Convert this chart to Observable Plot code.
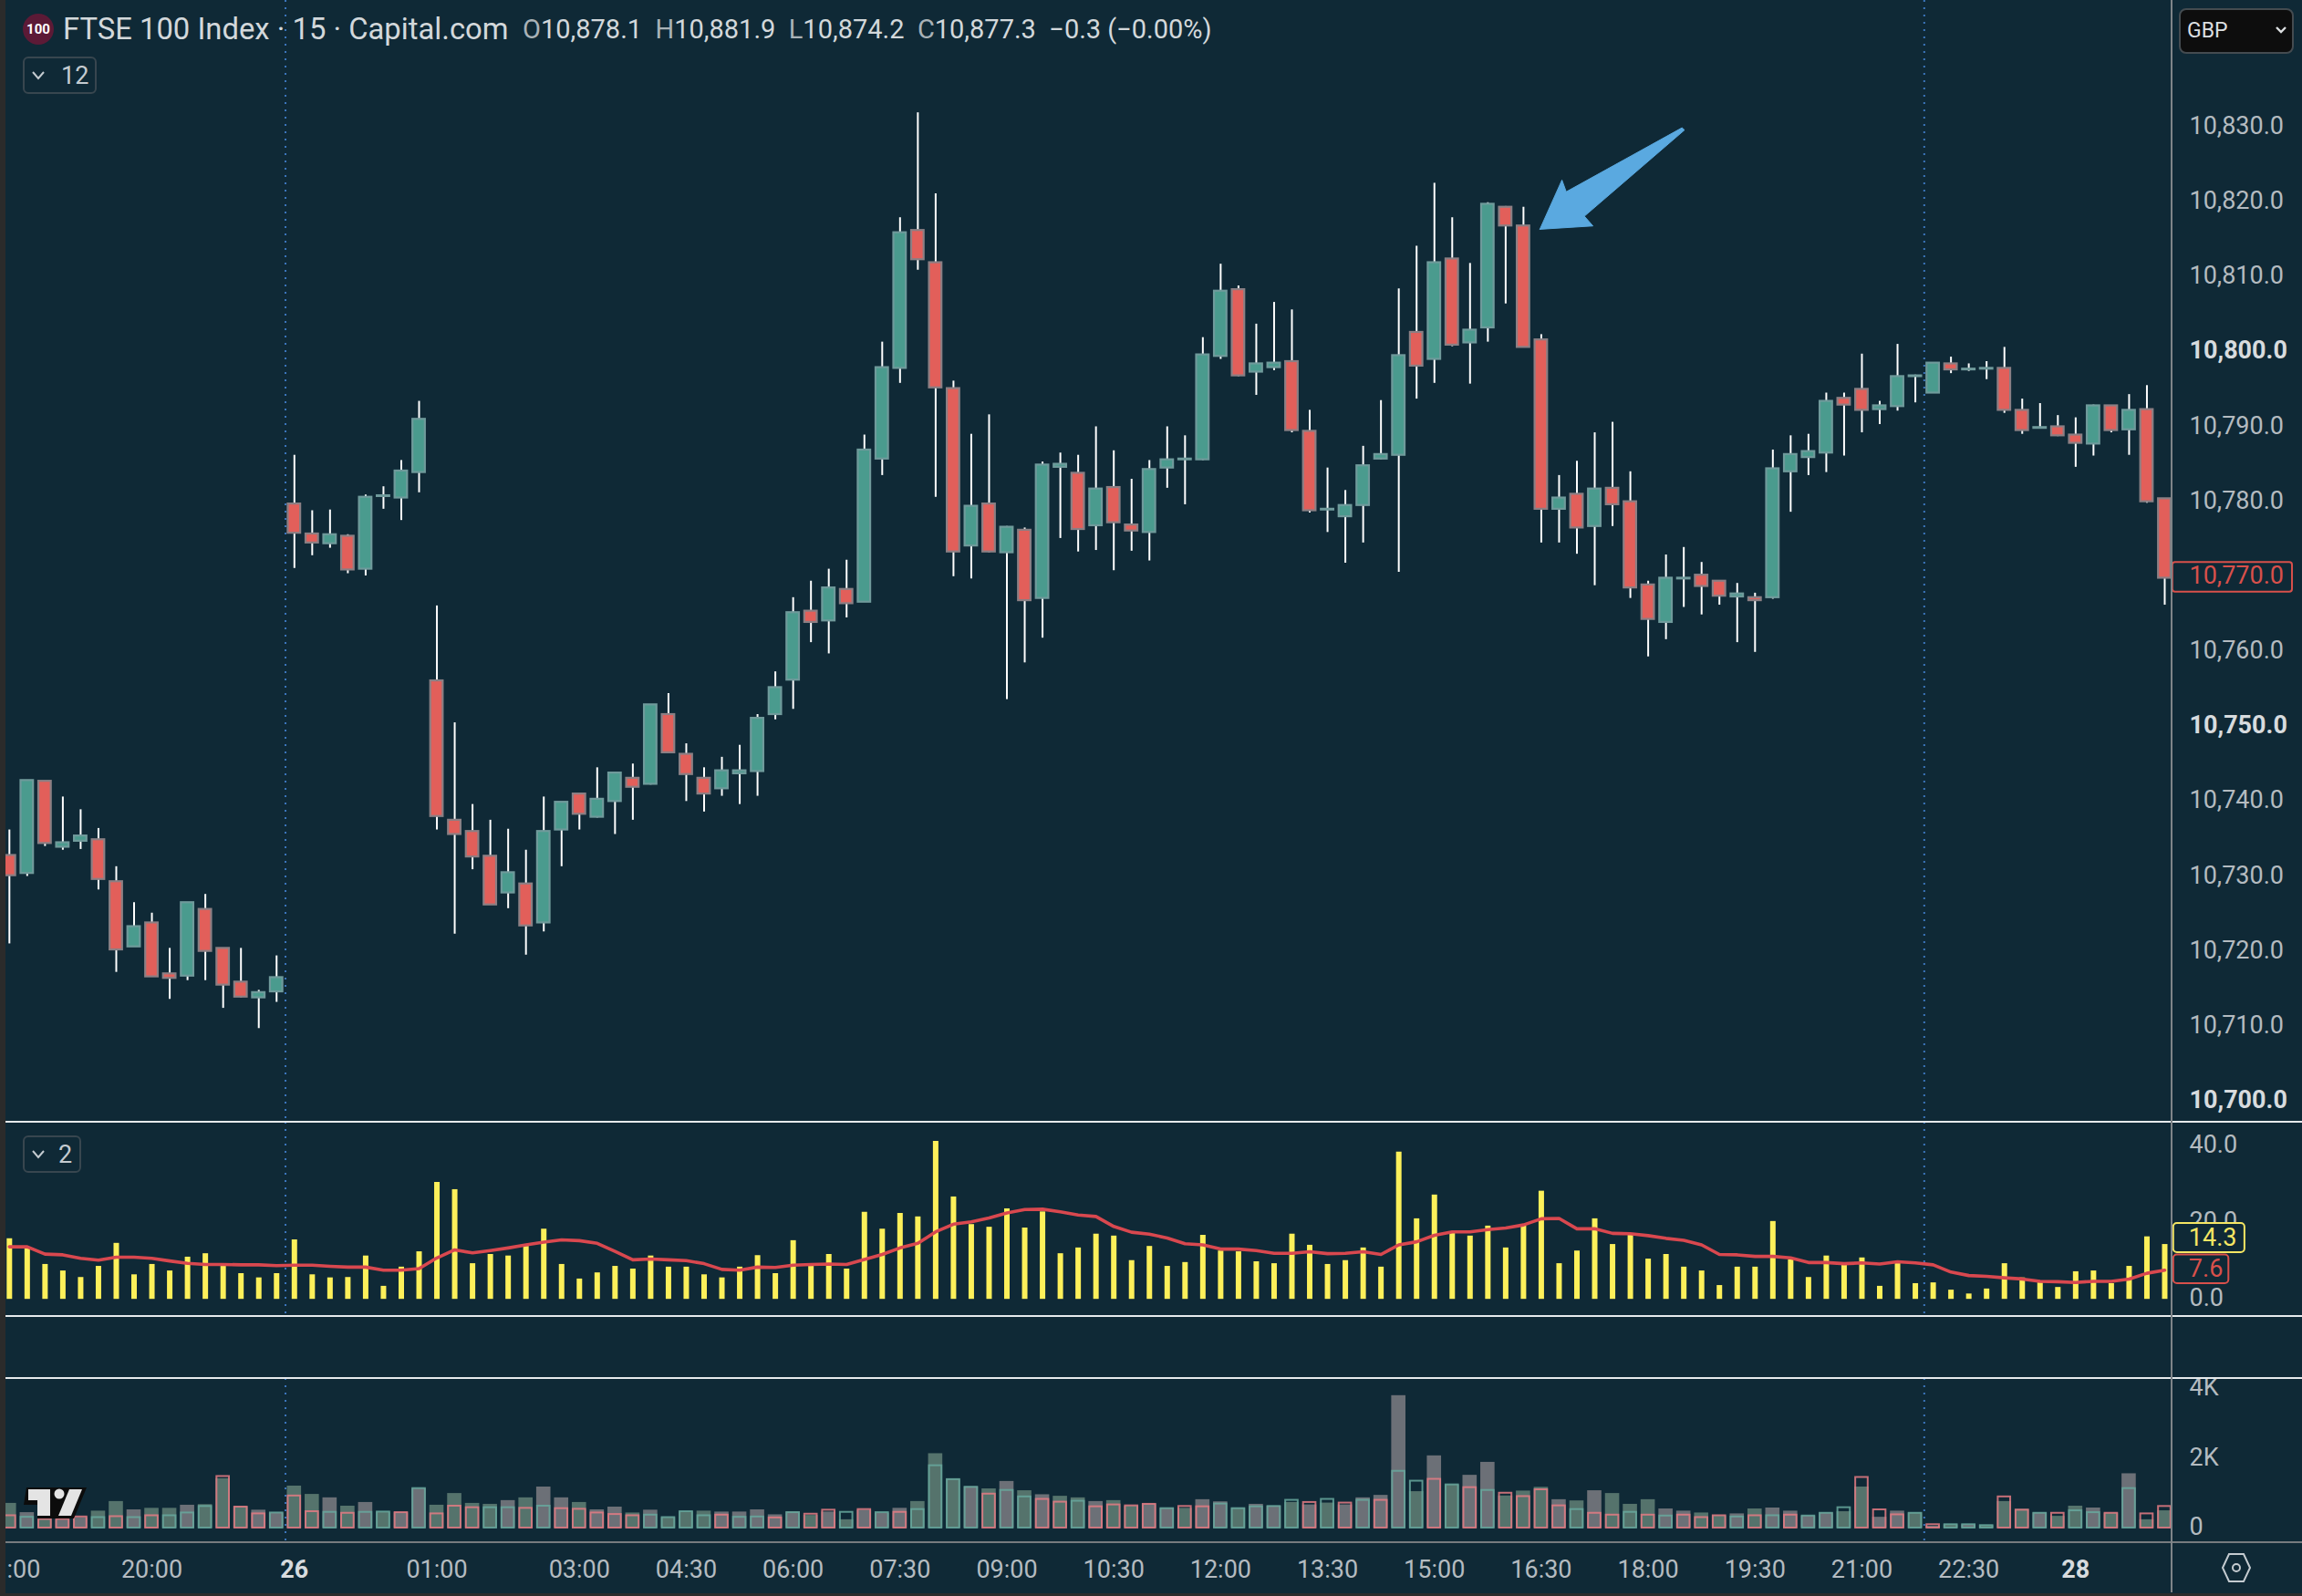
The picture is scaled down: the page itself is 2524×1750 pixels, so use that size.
<!DOCTYPE html>
<html>
<head>
<meta charset="utf-8">
<script src="https://cdn.jsdelivr.net/npm/d3@7"></script>
<script src="https://cdn.jsdelivr.net/npm/@observablehq/plot@0.6"></script>
<style>
html,body{margin:0;padding:0;background:#0f2936;width:2524px;height:1750px;overflow:hidden;font-family:Roboto,sans-serif}
#stage{position:relative;width:2524px;height:1750px;background:#0f2936;overflow:hidden}
#stage>svg{position:absolute;left:0}
.abs{position:absolute}
.btn{position:absolute;border:2px solid #38464f;border-radius:6px;box-sizing:border-box;color:#c4cbd0;font-size:27px;display:flex;align-items:center}
</style>
</head>
<body>
<div id="stage"></div>
<script>
const open=[10732.8,10730.4,10742.7,10733.9,10734.7,10734.9,10729.3,10720.6,10723.8,10717.0,10716.7,10725.6,10720.4,10715.9,10713.8,10714.6,10779.7,10775.7,10774.4,10775.4,10771.0,10780.7,10780.5,10783.9,10756.1,10737.5,10736.0,10732.7,10727.8,10729.0,10723.8,10736.2,10741.0,10737.9,10740.0,10743.1,10742.3,10751.6,10746.3,10743.1,10741.7,10743.7,10744.0,10751.6,10756.2,10765.4,10764.1,10768.3,10766.6,10785.7,10797.8,10816.2,10811.9,10795.1,10774.1,10779.7,10773.2,10776.2,10767.1,10784.6,10783.8,10776.8,10781.9,10776.9,10775.9,10784.5,10785.6,10785.6,10799.4,10808.3,10797.3,10797.9,10798.7,10789.4,10778.9,10778.0,10779.5,10785.7,10786.2,10802.6,10799.0,10812.4,10801.2,10803.2,10819.3,10816.8,10801.6,10779.0,10781.0,10776.7,10781.8,10780.0,10768.9,10763.9,10769.7,10770.2,10769.4,10767.3,10767.2,10767.2,10784.0,10785.9,10786.5,10793.8,10795.0,10792.3,10792.7,10796.7,10794.5,10798.4,10797.6,10797.7,10797.8,10792.2,10789.8,10790.0,10788.9,10787.7,10792.8,10789.6,10792.3,10780.4];
const high=[10736.2,10742.8,10742.7,10740.6,10738.9,10736.4,10731.3,10726.5,10725.1,10720.4,10726.5,10727.6,10720.4,10720.4,10714.8,10719.4,10786.2,10778.8,10778.9,10775.6,10780.9,10782.0,10785.5,10793.4,10766.1,10750.5,10739.6,10737.5,10736.3,10733.5,10740.6,10739.9,10741.0,10744.5,10743.8,10745.0,10752.9,10754.4,10747.7,10744.5,10745.9,10747.5,10751.6,10757.3,10767.2,10769.4,10771.0,10772.2,10788.9,10801.3,10817.9,10831.9,10821.1,10796.1,10789.0,10791.6,10776.7,10776.5,10785.3,10786.5,10786.2,10790.0,10786.8,10783.0,10785.5,10790.0,10788.8,10801.9,10811.7,10808.8,10803.7,10806.6,10805.6,10792.2,10784.5,10781.5,10787.4,10793.5,10808.4,10814.1,10822.5,10817.9,10811.8,10819.9,10819.4,10819.3,10802.3,10783.5,10785.4,10789.2,10790.6,10784.0,10769.4,10772.9,10773.9,10771.9,10769.4,10769.1,10767.8,10786.9,10788.8,10789.0,10794.5,10794.5,10799.7,10793.4,10801.0,10796.9,10798.5,10799.3,10798.4,10798.7,10800.6,10793.7,10793.1,10791.5,10791.2,10792.9,10792.8,10794.3,10795.5,10780.4];
const low=[10721.0,10730.0,10734.0,10733.5,10733.6,10728.2,10717.2,10720.6,10716.6,10713.6,10716.1,10716.1,10712.4,10713.8,10709.7,10713.2,10771.1,10772.8,10773.8,10770.4,10770.1,10779.0,10777.5,10781.2,10736.2,10722.3,10730.9,10726.2,10725.7,10719.5,10722.6,10731.3,10736.2,10737.8,10735.6,10737.5,10742.2,10746.5,10740.0,10738.6,10740.7,10739.6,10740.7,10750.9,10752.3,10761.2,10759.7,10764.5,10766.6,10783.5,10795.8,10810.9,10780.6,10770.0,10769.7,10773.2,10753.6,10758.5,10761.8,10775.1,10773.3,10773.5,10770.8,10773.4,10772.1,10781.8,10779.6,10785.5,10799.0,10796.7,10794.2,10797.5,10789.2,10778.5,10775.9,10771.8,10774.5,10785.6,10770.6,10793.7,10795.8,10800.7,10795.7,10801.3,10806.4,10800.6,10774.5,10774.5,10773.0,10768.8,10776.7,10767.1,10759.3,10761.6,10765.9,10764.9,10766.2,10761.2,10759.9,10767.0,10778.6,10783.5,10783.9,10786.1,10789.2,10790.3,10792.1,10793.2,10794.5,10797.1,10797.4,10796.3,10791.8,10789.0,10789.7,10788.7,10784.6,10786.1,10789.2,10786.2,10779.8,10766.2];
const close=[10730.1,10742.8,10734.4,10734.5,10735.4,10729.6,10720.2,10723.3,10716.6,10716.4,10726.5,10720.0,10715.5,10713.9,10714.5,10716.5,10775.8,10774.5,10775.6,10770.9,10780.6,10780.8,10784.1,10791.0,10738.0,10735.6,10732.6,10726.2,10730.5,10723.4,10736.0,10739.9,10738.3,10740.3,10743.8,10741.9,10752.9,10746.5,10743.6,10741.0,10744.1,10744.1,10751.1,10755.2,10765.2,10763.9,10768.5,10766.4,10786.9,10797.9,10815.9,10812.3,10795.2,10773.3,10779.4,10773.3,10776.6,10766.8,10784.9,10785.0,10776.3,10781.7,10777.2,10776.1,10784.3,10785.6,10785.7,10799.6,10808.1,10796.8,10798.4,10798.5,10789.5,10778.8,10779.0,10779.5,10784.8,10786.3,10799.5,10798.1,10811.9,10800.9,10802.9,10819.7,10816.8,10800.6,10779.0,10780.5,10776.5,10781.7,10779.6,10768.5,10764.3,10769.8,10769.8,10768.7,10767.4,10767.7,10766.8,10784.4,10786.3,10786.7,10793.4,10792.9,10792.2,10792.8,10796.7,10796.8,10798.5,10797.6,10797.7,10797.8,10792.2,10789.5,10789.9,10788.8,10787.8,10792.8,10789.5,10792.2,10780.0,10769.8];

const oscBars=[15.8,13.6,9.1,7.4,5.7,8.6,14.6,6.4,9.1,7.4,11.0,11.9,9.2,6.7,5.6,6.7,15.5,6.4,5.6,5.7,11.3,3.4,8.4,12.4,30.5,28.6,9.3,11.7,11.3,13.8,18.3,9.1,5.3,6.9,8.6,7.9,11.3,8.4,8.4,6.4,5.6,8.4,11.4,6.7,15.3,8.6,11.7,7.9,22.7,18.3,22.4,21.5,41.2,26.7,19.5,18.8,23.6,18.6,22.8,11.9,13.4,17.0,16.5,10.1,13.8,8.6,9.6,16.7,12.6,12.4,9.8,9.3,17.0,14.1,9.1,10.1,13.4,8.4,38.4,21.0,27.2,17.2,16.5,19.1,13.4,19.1,28.2,9.3,12.6,21.0,14.3,17.0,10.5,11.7,8.4,7.4,3.6,8.4,8.4,20.3,10.3,5.7,11.3,9.2,10.8,3.4,9.8,4.1,4.3,2.4,1.4,2.7,9.3,5.6,4.3,3.1,7.2,7.4,4.1,8.6,16.3,14.3];
const oscAverage=[13.7,13.7,11.8,11.6,10.7,10.2,11.0,11.0,10.7,10.0,9.4,9.1,9.1,9.0,9.0,8.8,8.9,8.9,8.6,8.4,8.4,7.6,7.6,8.0,10.8,12.9,12.1,12.7,13.4,14.2,14.9,15.5,15.3,14.6,12.5,10.3,10.5,10.3,10.1,9.3,7.8,7.6,8.4,8.3,8.9,9.1,9.2,9.1,10.4,11.7,13.4,14.6,17.6,19.6,20.2,21.2,22.5,23.4,23.5,22.8,22.0,21.6,19.0,17.5,17.0,16.0,14.5,14.2,13.1,13.1,12.7,12.0,12.0,12.4,11.9,12.0,12.4,11.7,14.2,15.0,16.7,17.6,17.6,18.2,18.6,19.4,21.0,21.1,18.4,18.4,17.2,17.1,16.6,15.9,15.4,14.2,11.7,11.6,11.2,11.2,10.8,9.6,9.6,9.3,9.5,9.2,9.8,9.5,9.0,7.1,6.2,6.0,5.6,5.3,4.7,4.6,4.4,4.7,4.7,5.3,6.8,7.6];

const volumeFilled=[709,443,248,230,301,487,762,523,567,567,656,673,1418,611,514,434,1205,966,868,629,735,461,443,1134,656,992,709,682,789,868,1178,868,735,523,602,434,514,301,470,487,461,461,523,381,461,363,461,239,514,434,567,762,2135,1409,1187,1125,1338,1072,957,913,868,762,789,629,691,567,567,815,753,567,682,629,735,665,718,665,868,939,3801,1045,2073,1240,1515,1887,921,1063,1170,815,780,1072,992,682,815,549,487,434,354,408,549,576,487,346,434,470,1178,310,487,434,53,97,97,71,762,540,434,337,629,576,425,1559,239,496];
const volumeFillKind=["g","s","g","s","s","g","g","s","g","g","s","g","g","g","s","s","g","g","s","g","s","g","s","s","g","g","g","g","s","g","s","s","g","s","s","g","s","g","g","g","s","s","s","s","s","g","s","g","s","s","s","g","g","g","s","g","s","g","s","g","g","s","g","g","s","s","g","s","s","g","s","s","g","s","g","s","s","s","s","g","s","g","s","s","g","g","g","s","g","s","g","g","g","s","s","g","g","s","g","s","s","s","s","g","g","s","s","g","s","g","s","g","g","g","s","g","g","s","g","s","g","g"];
const volumeOutlined=[354,310,248,248,319,301,328,301,354,354,434,620,1480,602,408,434,921,470,452,425,452,461,443,1134,408,629,585,585,585,567,629,558,540,434,390,354,372,301,470,354,372,310,319,292,443,399,514,452,532,443,452,532,1790,1391,1170,975,1081,895,824,744,771,611,665,638,682,558,620,611,691,558,611,620,797,735,824,718,797,797,1630,1347,1400,1240,1161,1081,1001,904,1099,638,532,425,372,452,372,346,372,301,354,319,354,354,372,346,425,585,1453,523,381,425,97,97,97,71,895,514,425,425,496,443,425,1134,408,620];
const volumeOutlineKind=["r","g","r","r","r","g","r","g","r","g","g","g","r","r","r","g","r","r","g","r","g","g","r","g","r","r","r","g","g","r","g","r","r","r","r","r","g","g","g","g","r","g","g","r","g","r","r","g","r","g","r","g","g","g","g","r","g","g","r","r","g","r","r","r","r","g","r","r","g","g","g","g","g","r","g","r","g","r","g","g","r","g","r","g","r","r","r","r","g","r","r","g","r","g","r","r","r","g","r","g","r","g","g","g","r","r","r","g","r","g","g","g","r","r","g","r","g","g","r","g","r","r"];

const priceTicks=[10830,10820,10810,10790,10780,10760,10740,10730,10720,10710];
const priceTicksBold=[10800,10750,10700];
const lastPrice=[10770];
const oscTicks=[40,20,0];
const volTicks=[0,2000,4000];
const timeTicks=[0.8,8,24,32,38,44,50,56,62,68,74,80,86,92,98,104,110];
const timeLabels=[":00","20:00","01:00","03:00","04:30","06:00","07:30","09:00","10:30","12:00","13:30","15:00","16:30","18:00","19:30","21:00","22:30"];
const dayTicks=[16,116];
const dayLabels=["26","28"];
const daySeparators=[15.5,107.5];
const arrowX=[85.92,87.16,87.40,93.9,94.04,88.42,88.9,85.92];
const arrowY=[10816.36,10822.93,10821.36,10829.9,10829.6,10818.1,10816.8,10816.36];

const BG="#0f2936",UP="#4a9b8e",DOWN="#e25f5a",AXIS="#b4bbc0",AXISB="#d7dbde",BLUE="#3c76bd";
const n=open.length, idx=d3.range(n);
const candles=idx.map(i=>({i,o:open[i],h:high[i],l:low[i],c:close[i],up:close[i]>=open[i]}));
const osc=idx.map(i=>({i,v:oscBars[i],m:oscAverage[i]}));
const vols=idx.map(i=>({i,f:volumeFilled[i],fk:volumeFillKind[i],o:volumeOutlined[i],ok:volumeOutlineKind[i]}));
const arrow=arrowX.map((x,k)=>({x,y:arrowY[k]}));

const xDomain=[-0.502,121.41];
const base={width:2524,marginLeft:0,marginRight:143,marginTop:0,marginBottom:0,
  x:{domain:xDomain,axis:null},
  style:{background:"transparent",fontFamily:"Roboto, sans-serif",overflow:"visible"}};
const FS=27;
const sepRule=()=>Plot.ruleX(daySeparators,{stroke:BLUE,strokeWidth:2,strokeDasharray:"2 6"});
const yAxis=(ticks,fmt,fill,extra={})=>Plot.axisY({anchor:"right",ticks,tickFormat:fmt,tickSize:0,tickPadding:19,label:null,fontSize:FS,fill,dy:-1,...extra});
const money=d3.format(",.1f");

const p1=Plot.plot({...base,height:1230,
  y:{domain:[10830,10700],range:[138.8,1207],axis:null},
  marks:[
    sepRule(),
    Plot.ruleX(candles,{x:"i",y1:"l",y2:"h",stroke:"#ffffff",strokeWidth:2}),
    Plot.rect(candles,{x1:d=>d.i-0.35,x2:d=>d.i+0.35,y1:"o",y2:"c",fill:d=>d.up?UP:DOWN,stroke:d=>d.up?"#6f9a9b":"#8b7f84",strokeWidth:2.2}),
    Plot.line(arrow,{x:"x",y:"y",fill:"#5aa9e0",stroke:"#5aa9e0",strokeWidth:1}),
    yAxis(priceTicks,money,AXIS),
    yAxis(priceTicksBold,money,AXISB,{fontWeight:"bold"}),
    Plot.rect([{x1:121.45,x2:128.17,y1:10771.9,y2:10767.95}],{x1:"x1",x2:"x2",y1:"y1",y2:"y2",fill:BG,stroke:"#d8504b",strokeWidth:2,rx:3}),
    yAxis(lastPrice,money,"#d8504b")
  ]});
p1.style.top="0px";

const p2=Plot.plot({...base,height:213,
  y:{domain:[0,40],range:[194.2,26],axis:null},
  marks:[
    sepRule(),
    Plot.ruleX(osc,{x:"i",y1:0,y2:"v",stroke:"#fdf05a",strokeWidth:6}),
    Plot.line(osc,{x:"i",y:"m",stroke:"#d9484f",strokeWidth:3.6,curve:"linear"}),
    yAxis(oscTicks,d3.format(".1f"),AXIS),
    Plot.rect([{x1:121.5,x2:125.5,y1:19.8,y2:12.2}],{x1:"x1",x2:"x2",y1:"y1",y2:"y2",fill:BG,stroke:"#f5e663",strokeWidth:2,rx:4}),
    Plot.rect([{x1:121.5,x2:124.6,y1:11.6,y2:4.1}],{x1:"x1",x2:"x2",y1:"y1",y2:"y2",fill:BG,stroke:"#d8504b",strokeWidth:2,rx:4}),
    Plot.text(["14.3"],{x:122.35,y:16,text:d=>d,fill:"#f5e663",fontSize:FS,textAnchor:"start"}),
    Plot.text(["7.6"],{x:122.35,y:7.9,text:d=>d,fill:"#d8504b",fontSize:FS,textAnchor:"start"})
  ]});
p2.style.top="1230px";

const fillColor={g:"#55736c",s:"#6c7077"}, lineColor={g:"#67a89d",r:"#e57b84"};
const timeMap=new Map(timeTicks.map((t,k)=>[t,timeLabels[k]]));
const dayMap=new Map(dayTicks.map((t,k)=>[t,dayLabels[k]]));
const p3=Plot.plot({...base,height:239,marginBottom:60,
  y:{domain:[0,4000],range:[164,11.2],axis:null},
  marks:[
    sepRule(),
    Plot.rect(vols,{x1:d=>d.i-0.4,x2:d=>d.i+0.4,y1:0,y2:"f",fill:d=>fillColor[d.fk]}),
    Plot.rect(vols,{x1:d=>d.i-0.35,x2:d=>d.i+0.35,y1:0,y2:"o",fill:"none",stroke:d=>lineColor[d.ok],strokeOpacity:0.85,strokeWidth:2}),
    yAxis(volTicks,d=>d===0?"0":(d/1000)+"K",AXIS),
    Plot.axisX({anchor:"bottom",ticks:timeTicks,tickFormat:d=>timeMap.get(d),tickSize:0,tickPadding:20,label:null,fontSize:FS,fill:AXIS}),
    Plot.axisX({anchor:"bottom",ticks:dayTicks,tickFormat:d=>dayMap.get(d),tickSize:0,tickPadding:20,label:null,fontSize:FS,fill:AXISB,fontWeight:"bold"})
  ]});
p3.style.top="1511px";

const stage=document.getElementById("stage");
stage.append(p1,p2,p3);

const add=(html)=>{const t=document.createElement("div");t.innerHTML=html;while(t.firstChild)stage.appendChild(t.firstChild);};
const chev=(x,y)=>`<svg class="abs" style="left:${x}px;top:${y}px" width="16" height="12"><polyline points="2,2 8,9 14,2" fill="none" stroke="#c4cbd0" stroke-width="2"/></svg>`;
add(`
<div class="abs" style="left:6px;right:0;top:1229px;height:2px;background:#e6eaec"></div>
<div class="abs" style="left:6px;right:0;top:1442px;height:2px;background:#e6eaec"></div>
<div class="abs" style="left:6px;right:0;top:1510px;height:2px;background:#e6eaec"></div>
<div class="abs" style="left:6px;right:0;top:1690px;height:2px;background:#777b7f"></div>
<div class="abs" style="left:2380px;top:0;width:2px;height:1746px;background:#7f8488"></div>
<div class="abs" style="left:0;top:0;width:6px;height:1750px;background:#2b2b2b"></div>
<div class="abs" style="left:0;top:1747px;width:2524px;height:3px;background:#2b2b2b"></div>

<div class="abs" style="left:25px;top:15px;width:34px;height:34px;border-radius:50%;background:#5c1a36;color:#fff;font-size:15px;font-weight:700;display:flex;align-items:center;justify-content:center">100</div>
<div class="abs" style="left:69px;top:14px;font-size:32.8px;line-height:36px;color:#d3d8db;white-space:nowrap">FTSE 100 Index · 15 · Capital.com</div>
<div class="abs" style="left:573px;top:15px;font-size:29px;line-height:34px;color:#d3d8db;white-space:nowrap"><span style="color:#a9b2b7">O</span>10,878.1&nbsp; <span style="color:#a9b2b7">H</span>10,881.9&nbsp; <span style="color:#a9b2b7">L</span>10,874.2&nbsp; <span style="color:#a9b2b7">C</span>10,877.3&nbsp; −0.3 (−0.00%)</div>

<div class="btn" style="left:25px;top:62px;width:81px;height:41px;padding-left:40px">12</div>${chev(34,77)}
<div class="btn" style="left:25px;top:1245px;width:64px;height:41px;padding-left:37px">2</div>${chev(34,1260)}

<div class="abs" style="left:2389px;top:9px;width:126px;height:50px;box-sizing:border-box;background:#0d0d0d;border:2px solid #444b50;border-radius:8px;color:#dcdfe1;font-size:23px;line-height:46px;padding-left:7px">GBP</div>
<svg class="abs" style="left:2494px;top:28px" width="14" height="10"><polyline points="2,2 7,7 12,2" fill="none" stroke="#dcdfe1" stroke-width="2.4"/></svg>

<svg class="abs" style="left:26px;top:1628px" width="72" height="40">
  <path d="M3 3 H69 L55 37 H15 V22 H0 Z" fill="#0c0c0c"/>
  <path d="M5 5 H29 V34 H15 V17 H5 Z" fill="#e4e4e4"/>
  <path d="M50 5 H64 L52 34 H38 Z" fill="#e4e4e4"/>
  <circle cx="39" cy="10" r="5.5" fill="#e4e4e4"/>
</svg>

<svg class="abs" style="left:2436px;top:1701px" width="32" height="36">
  <path d="M8 3 H24 L31 18 L24 33 H8 L1 18 Z" fill="none" stroke="#c4cbd0" stroke-width="2"/>
  <circle cx="16" cy="18" r="4" fill="none" stroke="#c4cbd0" stroke-width="2"/>
</svg>
`);
</script>
</body>
</html>
